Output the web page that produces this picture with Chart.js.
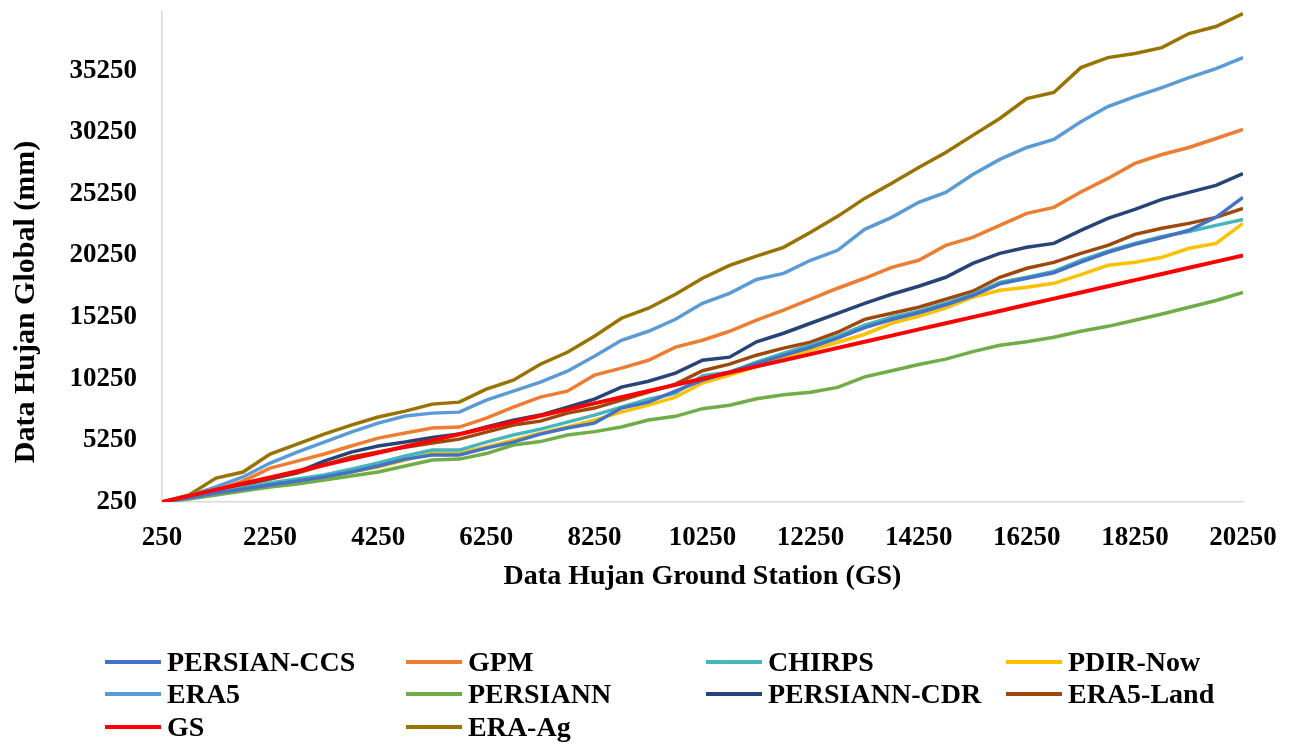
<!DOCTYPE html>
<html>
<head>
<meta charset="utf-8">
<script src="https://cdn.jsdelivr.net/npm/chart.js@4.4.1/dist/chart.umd.min.js"></script>
<style>
  body { margin: 0; background: #fff; }
  #wrap { position: relative; width: 1296px; height: 745px; }
  #legend { position: absolute; left: 0; top: 0; width: 1296px; height: 745px; pointer-events: none; }
  .item { position: absolute; display: flex; align-items: center; height: 32px;
          font: bold 28px 'Liberation Serif', 'Times New Roman', serif; color: #000; }
  .swatch { width: 56px; height: 4px; margin-right: 6px; }
</style>
</head>
<body>
<div id="wrap">
  <canvas id="chart" width="1296" height="745"></canvas>
  <div id="legend"></div>
</div>
<script>
// cumulative ground-station rainfall (x axis)
const gsPoints = [250, 750, 1250, 1750, 2250, 2750, 3250, 3750, 4250, 4750, 5250,
                  5750, 6250, 6750, 7250, 7750, 8250, 8750, 9250, 9750, 10250,
                  10750, 11250, 11750, 12250, 12750, 13250, 13750, 14250, 14750, 15250,
                  15750, 16250, 16750, 17250, 17750, 18250, 18750, 19250, 19750, 20250];

const xTicks = [250, 2250, 4250, 6250, 8250, 10250, 12250, 14250, 16250, 18250, 20250];
const yTicks = [250, 5250, 10250, 15250, 20250, 25250, 30250, 35250];

const persianCcs = [250, 580, 980, 1300, 1630, 1950, 2280, 2680, 3170, 3730, 4060,
    4060, 4620, 5110, 5760, 6250, 6650, 7870, 8350, 9240, 10130, 10780, 11500,
    12150, 12800, 13550, 14400, 15050, 15600, 16250, 17000, 17950, 18400, 18850,
    19700, 20500, 21150, 21700, 22290, 23340, 24960];
const gpm = [250, 660, 1220, 1950, 3000, 3570, 4140, 4790, 5430, 5840, 6250,
    6330, 7050, 7950, 8760, 9240, 10540, 11110, 11750, 12810, 13370, 14100, 15000,
    15810, 16700, 17590, 18400, 19290, 19860, 21070, 21720, 22690, 23670, 24150,
    25400, 26500, 27720, 28440, 29010, 29740, 30470];
const chirps = [250, 580, 980, 1380, 1790, 2120, 2440, 2900, 3410, 3980, 4460,
    4460, 5110, 5680, 6160, 6730, 7300, 7950, 8590, 9080, 10500, 10780, 11600,
    12320, 12970, 13700, 14590, 15240, 15720, 16370, 17100, 18070, 18480, 18960,
    19860, 20590, 21230, 21800, 22200, 22690, 23180];
const pdirNow = [250, 580, 980, 1380, 1710, 2000, 2280, 2680, 3090, 3650, 4220,
    4220, 4710, 5270, 5840, 6330, 6890, 7540, 8110, 8760, 9900, 10540, 11230,
    12000, 12570, 13210, 13860, 14750, 15320, 15970, 16860, 17430, 17670, 17990,
    18700, 19450, 19690, 20100, 20830, 21230, 22850];
const era5 = [250, 740, 1470, 2280, 3410, 4300, 5110, 5920, 6650, 7220, 7460,
    7540, 8510, 9240, 9970, 10860, 12080, 13370, 14100, 15070, 16370, 17180, 18300,
    18800, 19860, 20670, 22370, 23340, 24560, 25370, 26820, 28040, 29010, 29660,
    31100, 32330, 33140, 33870, 34680, 35410, 36300];
const persiann = [250, 500, 820, 1140, 1470, 1710, 2030, 2360, 2680, 3170, 3650,
    3730, 4180, 4870, 5150, 5680, 5960, 6330, 6900, 7200, 7820, 8100, 8630,
    8950, 9160, 9550, 10400, 10900, 11400, 11840, 12450, 12970, 13250, 13620,
    14100, 14500, 14990, 15500, 16050, 16600, 17260];
const persiannCdr = [250, 660, 1140, 1710, 2200, 2680, 3570, 4300, 4790, 5110, 5480,
    5760, 6330, 6890, 7300, 7950, 8590, 9570, 10050, 10700, 11750, 12000, 13250,
    13940, 14750, 15560, 16370, 17100, 17750, 18480, 19610, 20420, 20910, 21230,
    22290, 23260, 23990, 24800, 25370, 25930, 26900];
const era5Land = [250, 660, 1100, 1630, 2120, 2600, 3250, 3900, 4300, 4700, 5030,
    5350, 5920, 6490, 6810, 7460, 7870, 8510, 9160, 9810, 10900, 11430, 12160,
    12730, 13210, 14020, 15070, 15560, 16050, 16700, 17350, 18480, 19210, 19690,
    20420, 21070, 21960, 22450, 22850, 23340, 24070];
const gs = [250, 750, 1250, 1750, 2250, 2750, 3250, 3750, 4250, 4750, 5250,
    5750, 6250, 6750, 7250, 7750, 8250, 8750, 9250, 9750, 10250,
    10750, 11250, 11750, 12250, 12750, 13250, 13750, 14250, 14750, 15250,
    15750, 16250, 16750, 17250, 17750, 18250, 18750, 19250, 19750, 20250];
const eraAg = [250, 820, 2190, 2680, 4140, 4950, 5760, 6490, 7140, 7620, 8190,
    8350, 9410, 10130, 11430, 12400, 13700, 15160, 15970, 17100, 18400, 19450, 20200,
    20910, 22130, 23420, 24880, 26100, 27390, 28610, 29990, 31360, 32980, 33470,
    35490, 36300, 36630, 37110, 38250, 38820, 39870];

const seriesNames = ['PERSIAN-CCS', 'GPM', 'CHIRPS', 'PDIR-Now', 'ERA5', 'PERSIANN', 'PERSIANN-CDR', 'ERA5-Land', 'GS', 'ERA-Ag'];
const seriesValues = [persianCcs, gpm, chirps, pdirNow, era5, persiann, persiannCdr, era5Land, gs, eraAg];
const seriesColors = ['#4472C4', '#ED7D31', '#45B5BE', '#FFC000', '#5B9BD5', '#70AD47', '#264478', '#9E480E', '#FF0000', '#997300'];

const fontFamily = "'Liberation Serif', 'Times New Roman', serif";

const datasets = seriesNames.map((name, i) => ({
    label: name,
    data: seriesValues[i].map((v, j) => ({ x: gsPoints[j], y: v })),
    borderColor: seriesColors[i],
    backgroundColor: seriesColors[i],
    borderWidth: name === 'GS' ? 4 : 3.5,
    pointRadius: 0,
    tension: 0,
    order: name === 'GS' ? -1 : i
}));

new Chart(document.getElementById('chart').getContext('2d'), {
    type: 'line',
    data: { datasets },
    options: {
        responsive: false,
        animation: false,
        layout: { padding: { left: 0, right: 53, top: 12, bottom: 151 } },
        plugins: { legend: { display: false }, tooltip: { enabled: false } },
        scales: {
            x: {
                type: 'linear',
                min: 250,
                max: 20250,
                afterBuildTicks: axis => { axis.ticks = xTicks.map(v => ({ value: v })); },
                afterFit: axis => {
                    axis.height = 92;
                    axis.paddingLeft = 0; axis.paddingRight = 0;
                },
                grid: { display: false, drawTicks: false },
                border: { display: true, color: '#d9d9d9', width: 1.5 },
                ticks: { padding: 20, maxRotation: 0, autoSkip: false, color: '#000',
                         font: { family: fontFamily, size: 27, weight: 'bold' },
                         callback: v => String(v) },
                title: { display: true, text: 'Data Hujan Ground Station (GS)', color: '#000',
                         padding: { top: 0, bottom: 0 },
                         font: { family: fontFamily, size: 28, weight: 'bold' } }
            },
            y: {
                type: 'linear',
                min: 250,
                max: 40000,
                afterBuildTicks: axis => { axis.ticks = yTicks.map(v => ({ value: v })); },
                afterFit: axis => {
                    axis.width = 162;
                    axis.paddingTop = 0; axis.paddingBottom = 0;
                },
                grid: { display: false, drawTicks: false },
                border: { display: true, color: '#d9d9d9', width: 1.5 },
                ticks: { padding: 25, autoSkip: false, color: '#000',
                         font: { family: fontFamily, size: 27, weight: 'bold' },
                         callback: v => String(v) },
                // trailing spaces push the rotated title down, as in the original
                title: { display: true, text: 'Data Hujan Global (mm)            ', color: '#000',
                         padding: { top: 8, bottom: 0 },
                         font: { family: fontFamily, size: 30, weight: 'bold' } }
            }
        }
    }
});

// legend laid out as a 4-column grid like the original
const legendCols = [105, 406, 706, 1006];
const legendRows = [662, 694, 727];
const legendEl = document.getElementById('legend');
seriesNames.forEach((name, i) => {
    const item = document.createElement('div');
    item.className = 'item';
    item.style.left = legendCols[i % 4] + 'px';
    item.style.top = (legendRows[Math.floor(i / 4)] - 16) + 'px';
    item.innerHTML = `<span class="swatch" style="background:${seriesColors[i]}"></span>${name}`;
    legendEl.appendChild(item);
});
</script>
</body>
</html>
